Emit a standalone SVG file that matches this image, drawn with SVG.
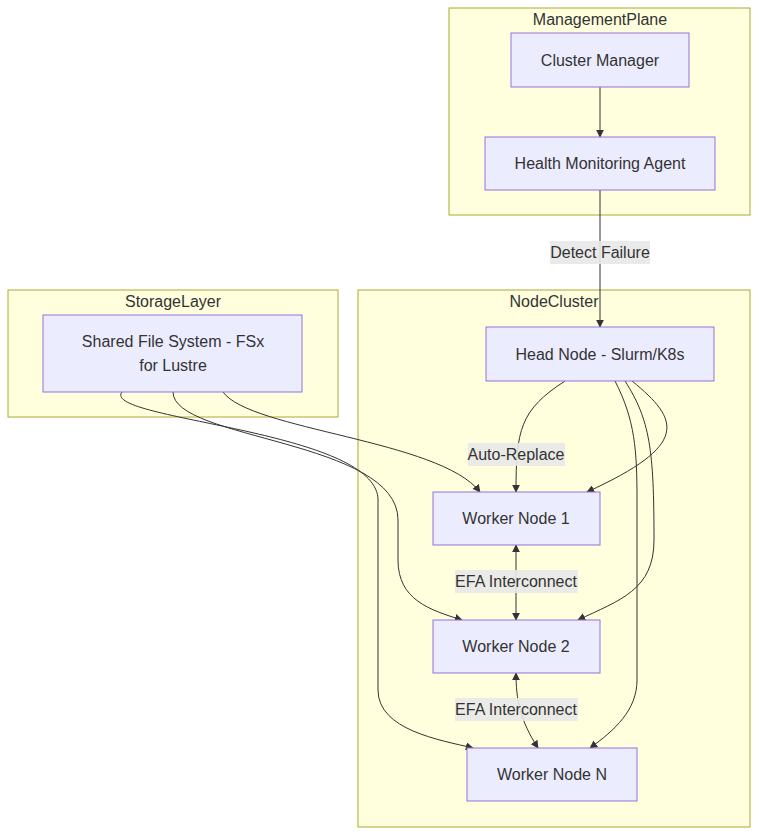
<svg xmlns="http://www.w3.org/2000/svg" width="759" height="835" viewBox="0 0 759 835">
<style>
.c{fill:#ffffde;stroke:#aaaa33;stroke-width:1}
.n{fill:#ececff;stroke:#9370db;stroke-width:1}
text{font-family:"Liberation Sans",Arial,sans-serif;font-size:16px;fill:#333;text-anchor:middle;dominant-baseline:central}
.e{fill:none;stroke:#333;stroke-width:1}
.lb{fill:#e8e8e8;opacity:0.9}
</style>
<defs>
<marker id="a" viewBox="0 0 10 10" refX="9" refY="5" markerWidth="8" markerHeight="8" orient="auto-start-reverse"><path d="M0,0L10,5L0,10z" fill="#333"/></marker>
</defs>
<rect width="759" height="835" fill="#fff"/>
<g id="ManagementPlane"><rect class="c" x="449" y="8" width="301" height="207"/><text x="600" y="19">ManagementPlane</text></g>
<g id="StorageLayer"><rect class="c" x="8" y="290" width="330" height="127"/><text x="173" y="301">StorageLayer</text></g>
<g id="NodeCluster"><rect class="c" x="358" y="290" width="392" height="537"/><text x="554" y="301">NodeCluster</text></g>
<g id="edges">
<path class="e" d="M600,87L600,137" marker-end="url(#a)"/>
<path class="e" d="M600,190L600,327" marker-end="url(#a)"/>
<path class="e" d="M565,381C520,410 516,430 516,492" marker-end="url(#a)"/>
<path class="e" d="M632,381C680,420 690,445 587,492" marker-end="url(#a)"/>
<path class="e" d="M625,381C650,420 654,450 654,540C654,590 620,600 578,620" marker-end="url(#a)"/>
<path class="e" d="M615,381C635,420 637,450 637,500L637,680C637,710 615,730 590,748" marker-end="url(#a)"/>
<path class="e" d="M223,392C250,430 440,440 480,492" marker-end="url(#a)"/>
<path class="e" d="M173,392C173,440 398,440 398,520L398,560C398,600 430,610 462,620" marker-end="url(#a)"/>
<path class="e" d="M122,392C100,420 378,430 378,500L378,690C378,730 440,740 473,748" marker-end="url(#a)"/>
<path class="e" d="M516,545L516,620" marker-start="url(#a)" marker-end="url(#a)"/>
<path class="e" d="M516,673C516,700 520,720 538,748" marker-start="url(#a)" marker-end="url(#a)"/>
<rect class="lb" x="550" y="241" width="100" height="23"/><text x="600" y="252">Detect Failure</text>
<rect class="lb" x="468" y="443" width="97" height="23"/><text x="516" y="454">Auto-Replace</text>
<rect class="lb" x="455" y="570" width="123" height="23"/><text x="516" y="581">EFA Interconnect</text>
<rect class="lb" x="455" y="698" width="123" height="23"/><text x="516" y="709">EFA Interconnect</text>
</g>
<g id="ClusterManager"><rect class="n" x="511" y="33" width="178" height="54"/><text x="600" y="60">Cluster Manager</text></g>
<g id="HealthMonitoringAgent"><rect class="n" x="485" y="137" width="230" height="53"/><text x="600" y="163">Health Monitoring Agent</text></g>
<g id="SharedFS"><rect class="n" x="43" y="315" width="259" height="77"/><text x="173" y="341">Shared File System - FSx</text><text x="173" y="365">for Lustre</text></g>
<g id="HeadNode"><rect class="n" x="486" y="327" width="228" height="54"/><text x="600" y="354">Head Node - Slurm/K8s</text></g>
<g id="Worker1"><rect class="n" x="433" y="492" width="167" height="53"/><text x="516" y="518">Worker Node 1</text></g>
<g id="Worker2"><rect class="n" x="433" y="620" width="167" height="53"/><text x="516" y="646">Worker Node 2</text></g>
<g id="WorkerN"><rect class="n" x="467" y="748" width="170" height="53"/><text x="552" y="774">Worker Node N</text></g>
</svg>
